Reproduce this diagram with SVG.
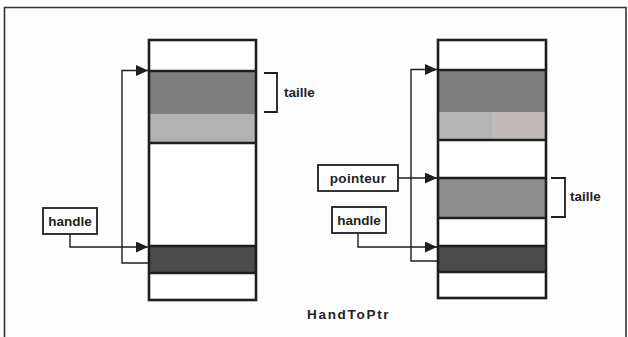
<svg xmlns="http://www.w3.org/2000/svg" width="628" height="337" viewBox="0 0 628 337">
<style>
.col{fill:none;stroke:#1e1e1e;stroke-width:2.6}
.div{stroke:#1e1e1e;stroke-width:2.4}
.box{fill:#fff;stroke:#1e1e1e;stroke-width:1.8}
.con{fill:none;stroke:#1e1e1e;stroke-width:1.4}
.br{fill:none;stroke:#1e1e1e;stroke-width:1.8}
.lbl{font-family:"Liberation Sans",Arial,sans-serif;font-weight:bold;font-size:13.5px;fill:#222}
</style>
<defs>
<marker id="ah" markerUnits="userSpaceOnUse" markerWidth="13" markerHeight="11" refX="12" refY="5.5" orient="auto">
<path d="M0,0 L12,5.5 L0,11 Z" fill="#1e1e1e"/>
</marker>
</defs>
<rect x="0" y="0" width="628" height="337" fill="#fdfdfd"/>
<path d="M4.5,337 V7.5 H626 V337" fill="none" stroke="#333" stroke-width="1.6"/>

<g id="block-left">
<rect x="149" y="40" width="107" height="260" fill="#fff"/>
<rect x="149" y="71" width="107" height="43" fill="#7e7e7e"/>
<rect x="149" y="114" width="107" height="29" fill="#b2b2b2"/>
<rect x="149" y="246" width="107" height="27" fill="#4c4c4c"/>
<line class="div" x1="149" y1="71" x2="256" y2="71"/>
<line class="div" x1="149" y1="143" x2="256" y2="143"/>
<line class="div" x1="149" y1="246" x2="256" y2="246"/>
<line class="div" x1="149" y1="273" x2="256" y2="273"/>
<rect class="col" x="149" y="40" width="107" height="260"/>
</g>

<g id="block-right">
<rect x="438" y="40" width="108" height="258" fill="#fff"/>
<rect x="438" y="70" width="108" height="42" fill="#7e7e7e"/>
<rect x="438" y="112" width="54" height="28" fill="#b4b4b4"/>
<rect x="492" y="112" width="54" height="28" fill="#bfbab8"/>
<rect x="438" y="178" width="108" height="40" fill="#8e8e8e"/>
<rect x="438" y="246" width="108" height="26" fill="#4c4c4c"/>
<line class="div" x1="438" y1="70" x2="546" y2="70"/>
<line class="div" x1="438" y1="140" x2="546" y2="140"/>
<line class="div" x1="438" y1="178" x2="546" y2="178"/>
<line class="div" x1="438" y1="218" x2="546" y2="218"/>
<line class="div" x1="438" y1="246" x2="546" y2="246"/>
<line class="div" x1="438" y1="272" x2="546" y2="272"/>
<rect class="col" x="438" y="40" width="108" height="258"/>
</g>

<g id="handle-left">
<rect class="box" x="43" y="208" width="54" height="26"/>
<text class="lbl" x="70" y="226" text-anchor="middle">handle</text>
</g>

<g id="pointeur">
<rect class="box" x="318" y="165" width="80" height="26"/>
<text class="lbl" x="358" y="183" text-anchor="middle" letter-spacing="0.3">pointeur</text>
</g>

<g id="handle-right">
<rect class="box" x="332" y="207" width="54" height="26"/>
<text class="lbl" x="359" y="225" text-anchor="middle">handle</text>
</g>

<g id="taille-left">
<path class="br" d="M264,73 H277 V112 H264"/>
<text class="lbl" x="284" y="97" font-size="12.5">taille</text>
</g>

<g id="taille-right">
<path class="br" d="M551,178 H565 V217 H551"/>
<text class="lbl" x="570" y="201" font-size="12.5">taille</text>
</g>

<g id="title">
<text class="lbl" x="307" y="319" font-size="14" letter-spacing="1.7">HandToPtr</text>
</g>

<g id="connectors">
<path class="con" d="M149,263 H122 V70.5 H148" marker-end="url(#ah)"/>
<path class="con" d="M70,234 V247 H148" marker-end="url(#ah)"/>
<path class="con" d="M438,261 H411 V69.5 H437" marker-end="url(#ah)"/>
<path class="con" d="M398,178 H437" marker-end="url(#ah)"/>
<path class="con" d="M358,233 V247 H437" marker-end="url(#ah)"/>
</g>
</svg>
